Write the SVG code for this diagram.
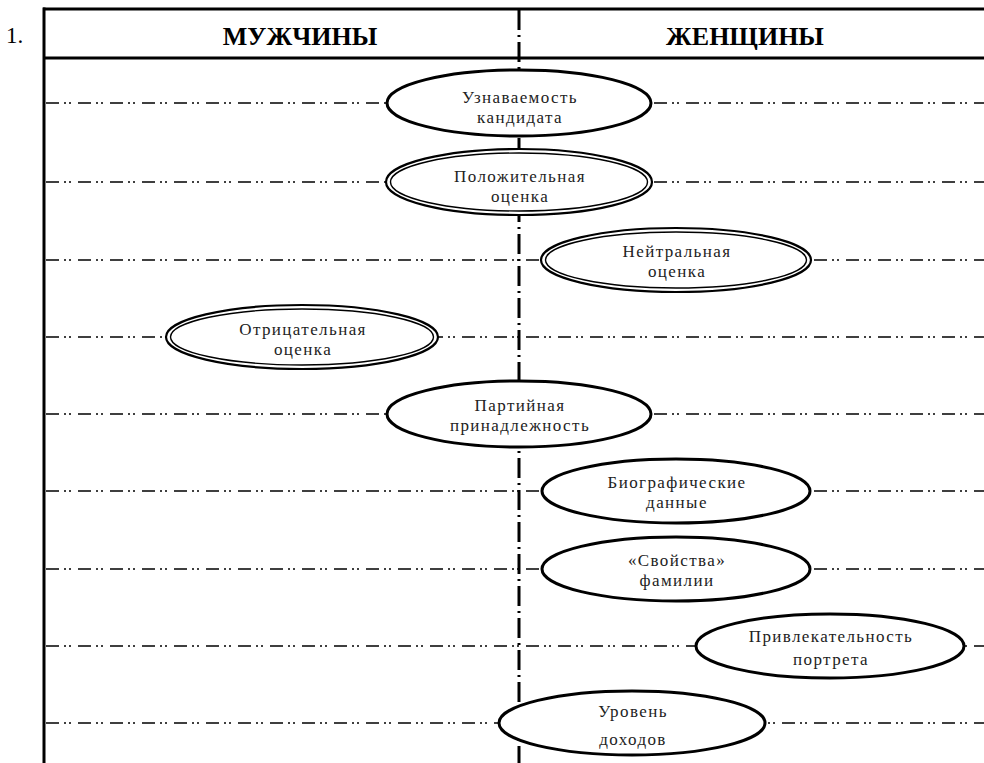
<svg xmlns="http://www.w3.org/2000/svg" width="984" height="763" viewBox="0 0 984 763">
<style>
.frame{stroke:#000;stroke-width:3;fill:none}
.hl{stroke:#000;stroke-width:1.6;stroke-dasharray:13 5 2 3 2 7;fill:none}
.vl{stroke:#000;stroke-width:3;stroke-dasharray:20 5 2 5;fill:none}
.e1{fill:#fff;stroke:#000;stroke-width:3}
.eo{fill:#fff;stroke:#000;stroke-width:2.2}
.ei{fill:none;stroke:#000;stroke-width:1.4}
.t{font-family:"Liberation Serif","DejaVu Serif",serif;font-size:17px;letter-spacing:1.4px;fill:#222;text-anchor:middle}
.h{font-family:"Liberation Serif","DejaVu Serif",serif;font-size:26px;font-weight:bold;fill:#000;text-anchor:middle}
.num{font-family:"Liberation Serif","DejaVu Serif",serif;font-size:23px;fill:#000}
</style>
<rect width="984" height="763" fill="#fff"/>
<text class="num" x="6" y="43">1.</text>
<g id="frame">
<line class="frame" x1="43" y1="9" x2="984" y2="9"/>
<line class="frame" x1="43" y1="58" x2="984" y2="58"/>
<line class="frame" x1="44" y1="7.5" x2="44" y2="763"/>
<text class="h" x="300" y="45">МУЖЧИНЫ</text>
<text class="h" x="745" y="45">ЖЕНЩИНЫ</text>
</g>
<g id="connectors">
<line class="vl" x1="519" y1="10" x2="519" y2="763"/>
<line class="hl" x1="46" y1="103" x2="984" y2="103"/>
<line class="hl" x1="46" y1="182" x2="984" y2="182"/>
<line class="hl" x1="46" y1="260" x2="984" y2="260"/>
<line class="hl" x1="46" y1="337" x2="984" y2="337"/>
<line class="hl" x1="46" y1="414" x2="984" y2="414"/>
<line class="hl" x1="46" y1="491" x2="984" y2="491"/>
<line class="hl" x1="46" y1="569" x2="984" y2="569"/>
<line class="hl" x1="46" y1="646" x2="984" y2="646"/>
<line class="hl" x1="46" y1="723" x2="984" y2="723"/>
</g>
<g id="n1">
<ellipse class="e1" cx="519" cy="103" rx="132" ry="33"/>
<text class="t" x="520" y="103">Узнаваемость</text>
<text class="t" x="520" y="123">кандидата</text>
</g>
<g id="n2">
<ellipse class="eo" cx="519" cy="182" rx="133" ry="33"/>
<ellipse class="ei" cx="519" cy="182" rx="128.5" ry="29"/>
<text class="t" x="520" y="182">Положительная</text>
<text class="t" x="520" y="202">оценка</text>
</g>
<g id="n3">
<ellipse class="eo" cx="676" cy="260" rx="135" ry="32"/>
<ellipse class="ei" cx="676" cy="260" rx="130.5" ry="28"/>
<text class="t" x="677" y="257">Нейтральная</text>
<text class="t" x="677" y="277">оценка</text>
</g>
<g id="n4">
<ellipse class="eo" cx="302" cy="337" rx="136" ry="32"/>
<ellipse class="ei" cx="302" cy="337" rx="131.5" ry="28"/>
<text class="t" x="303" y="335">Отрицательная</text>
<text class="t" x="303" y="355">оценка</text>
</g>
<g id="n5">
<ellipse class="e1" cx="519" cy="414" rx="132" ry="33"/>
<text class="t" x="520" y="411">Партийная</text>
<text class="t" x="520" y="431">принадлежность</text>
</g>
<g id="n6">
<ellipse class="e1" cx="676" cy="491" rx="134" ry="32"/>
<text class="t" x="677" y="488">Биографические</text>
<text class="t" x="677" y="508">данные</text>
</g>
<g id="n7">
<ellipse class="e1" cx="676" cy="569" rx="134" ry="32"/>
<text class="t" x="677" y="566">«Свойства»</text>
<text class="t" x="677" y="586">фамилии</text>
</g>
<g id="n8">
<ellipse class="e1" cx="830" cy="646" rx="134" ry="32"/>
<text class="t" x="831" y="642">Привлекательность</text>
<text class="t" x="831" y="665">портрета</text>
</g>
<g id="n9">
<ellipse class="e1" cx="632" cy="723" rx="133" ry="32"/>
<text class="t" x="633" y="717">Уровень</text>
<text class="t" x="633" y="745">доходов</text>
</g>
</svg>
